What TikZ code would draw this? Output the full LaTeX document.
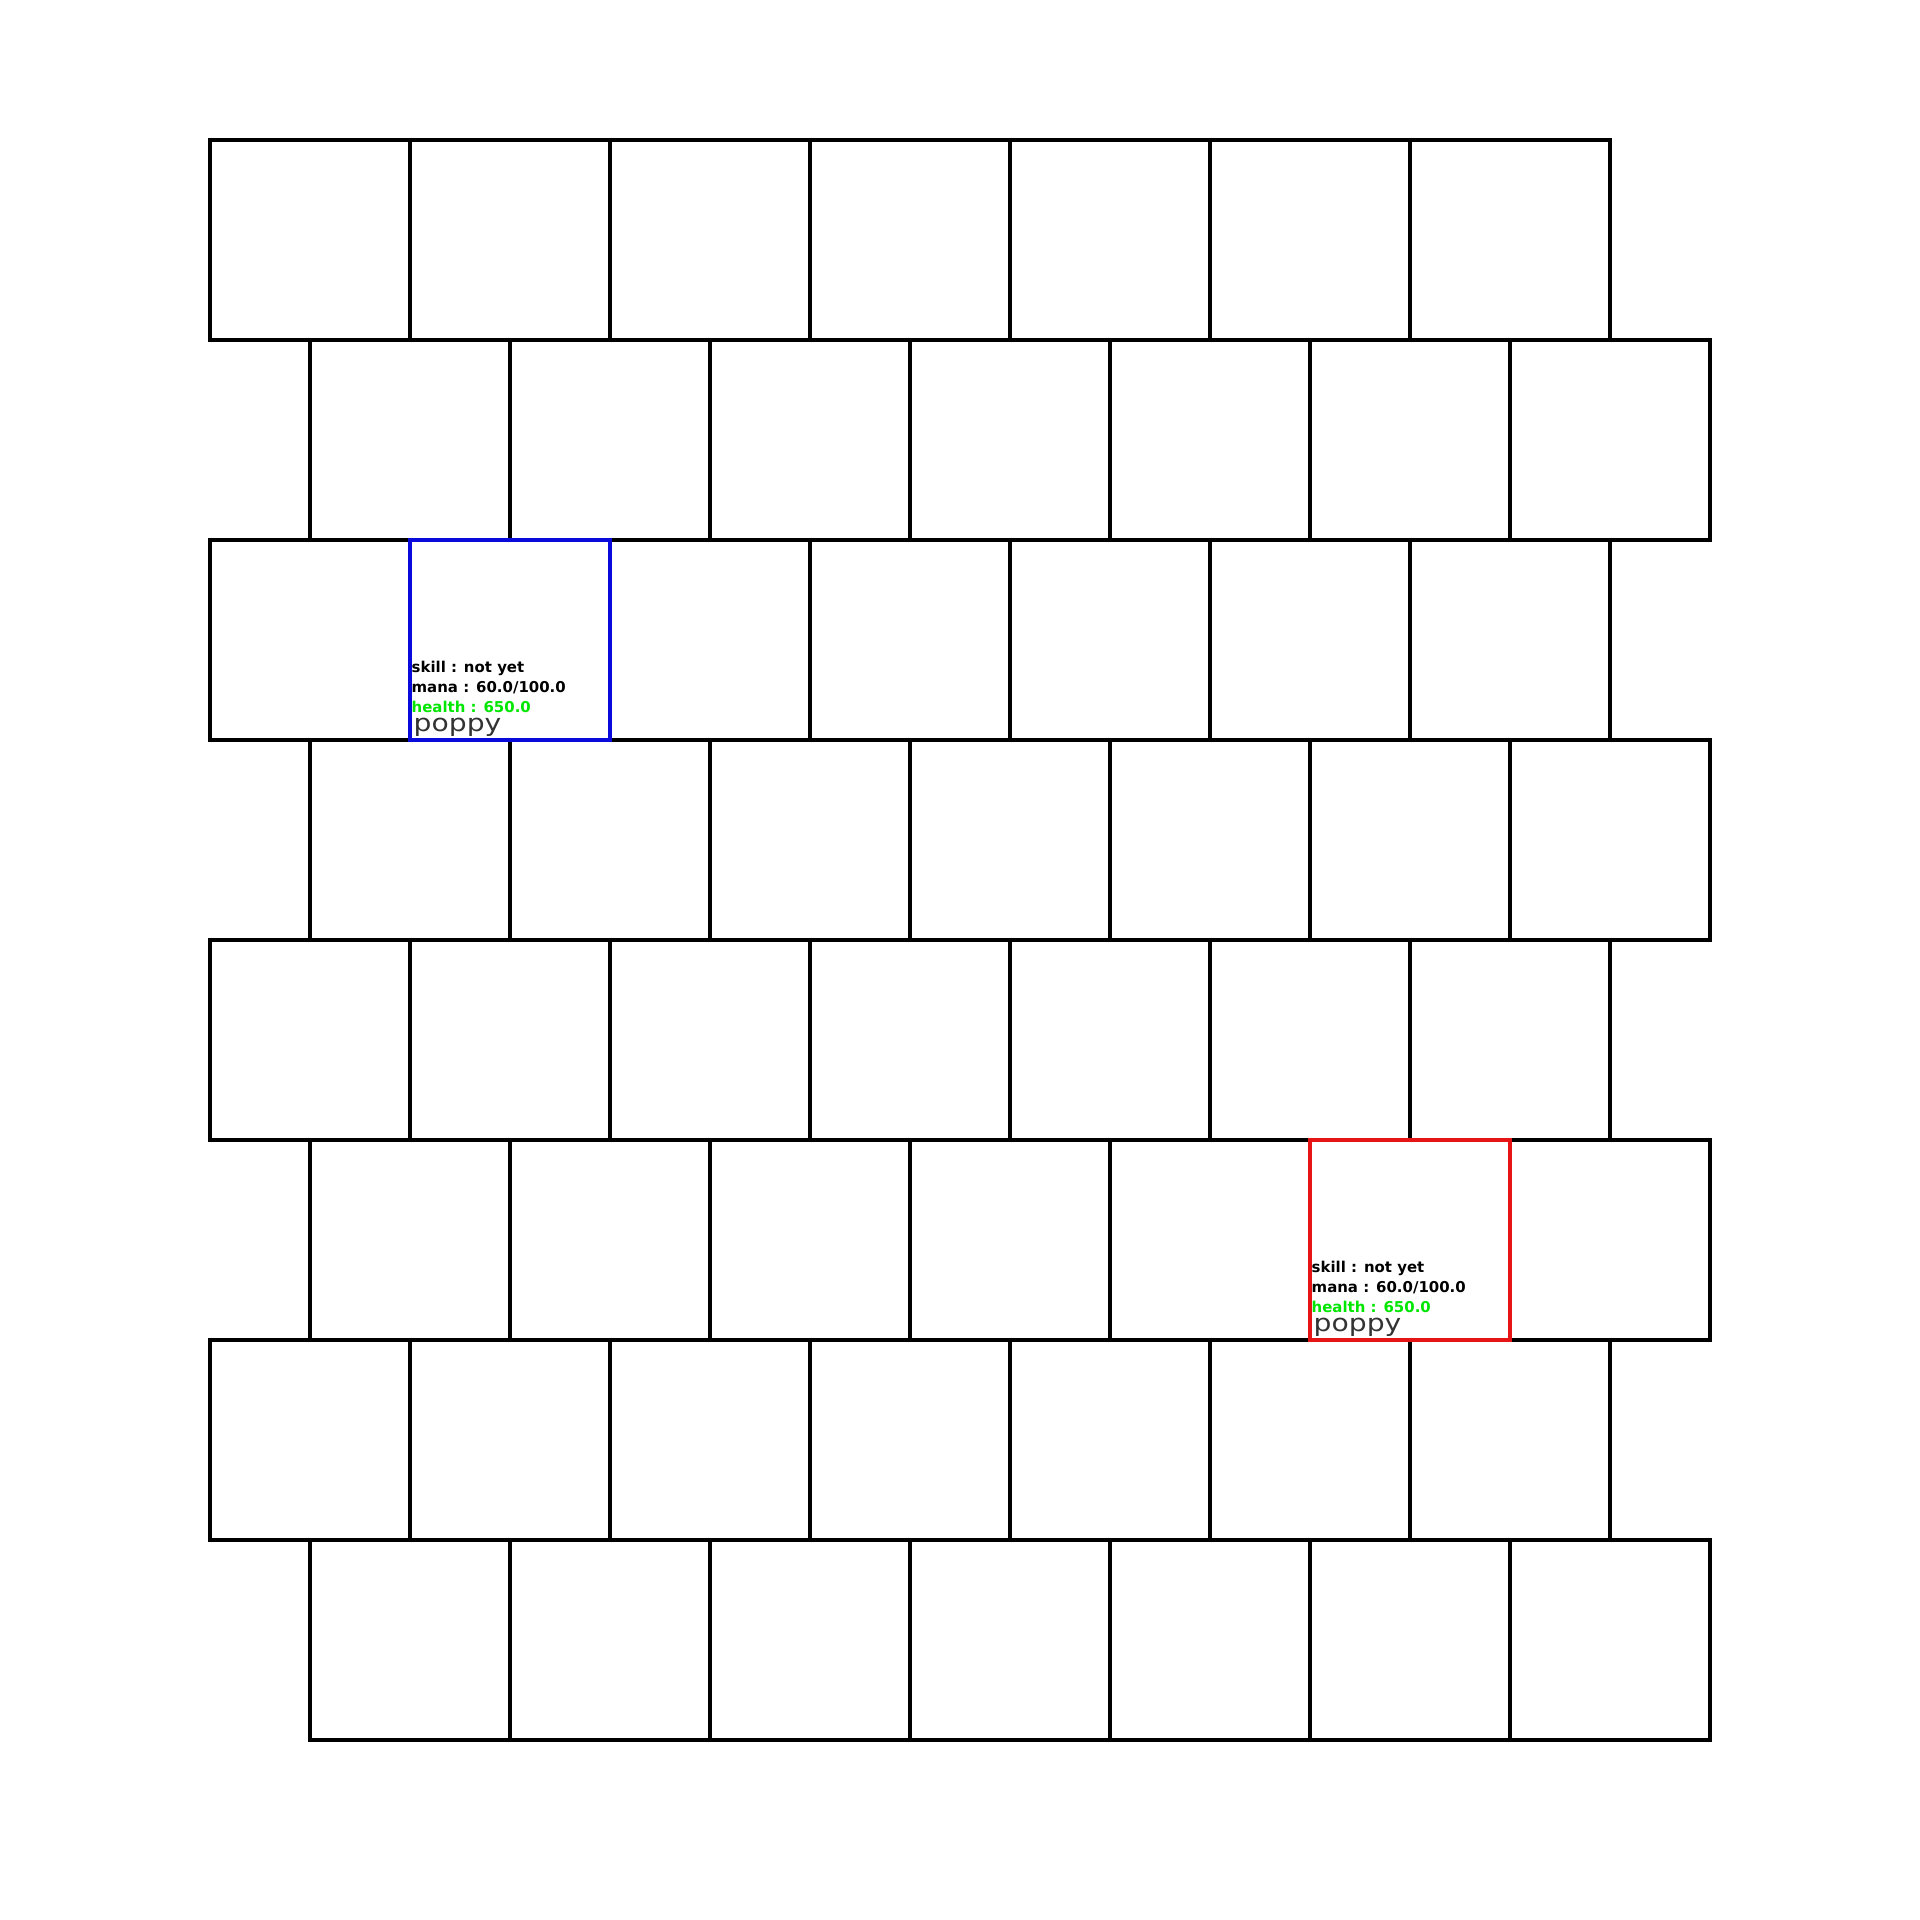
\documentclass[tikz,border=0pt]{standalone}
\usepackage{graphicx}
\usepackage{fontspec}
\newfontfamily\labf{DejaVu Sans}
\definecolor{pgreen}{RGB}{0,230,0}
\definecolor{pblue}{RGB}{10,10,220}
\definecolor{pred}{RGB}{230,20,20}
\begin{document}
\begin{tikzpicture}[x=0.01cm,y=-0.01cm,line width=0.95pt,
  cellbox/.style={draw=black},
  stat/.style={inner sep=0pt,anchor=base west,font=\labf\fontsize{4.25pt}{5pt}\selectfont\bfseries},
  nametext/.style={inner sep=0pt,anchor=base west,text=black!80,font=\labf\fontsize{6.8pt}{8pt}\selectfont}]
\useasboundingbox (0,0) rectangle (1920,1920);
\foreach \r in {0,...,7} {
  \pgfmathsetmacro\off{mod(\r,2)*100}
  \foreach \c in {0,...,6} {
    \draw[cellbox] (210+\off+200*\c,140+200*\r) rectangle ++(200,200);
  }
}
% highlighted cells
\draw[pblue] (410,540) rectangle (610,740);
\draw[pred] (1310,1140) rectangle (1510,1340);
% first unit
\node[stat] (a1) at (410,672) {skill : not yet};
\node[stat] (a2) at (410,692) {mana : 60.0/100.0};
\node[stat,text=pgreen] (a3) at (410,712) {health : 650.0};
\node[nametext] (a4) at (412,731) {\scalebox{1.18}[1]{poppy}};
% second unit
\node[stat] (b1) at (1310,1272) {skill : not yet};
\node[stat] (b2) at (1310,1292) {mana : 60.0/100.0};
\node[stat,text=pgreen] (b3) at (1310,1312) {health : 650.0};
\node[nametext] (b4) at (1312,1331) {\scalebox{1.18}[1]{poppy}};
\end{tikzpicture}
\end{document}
